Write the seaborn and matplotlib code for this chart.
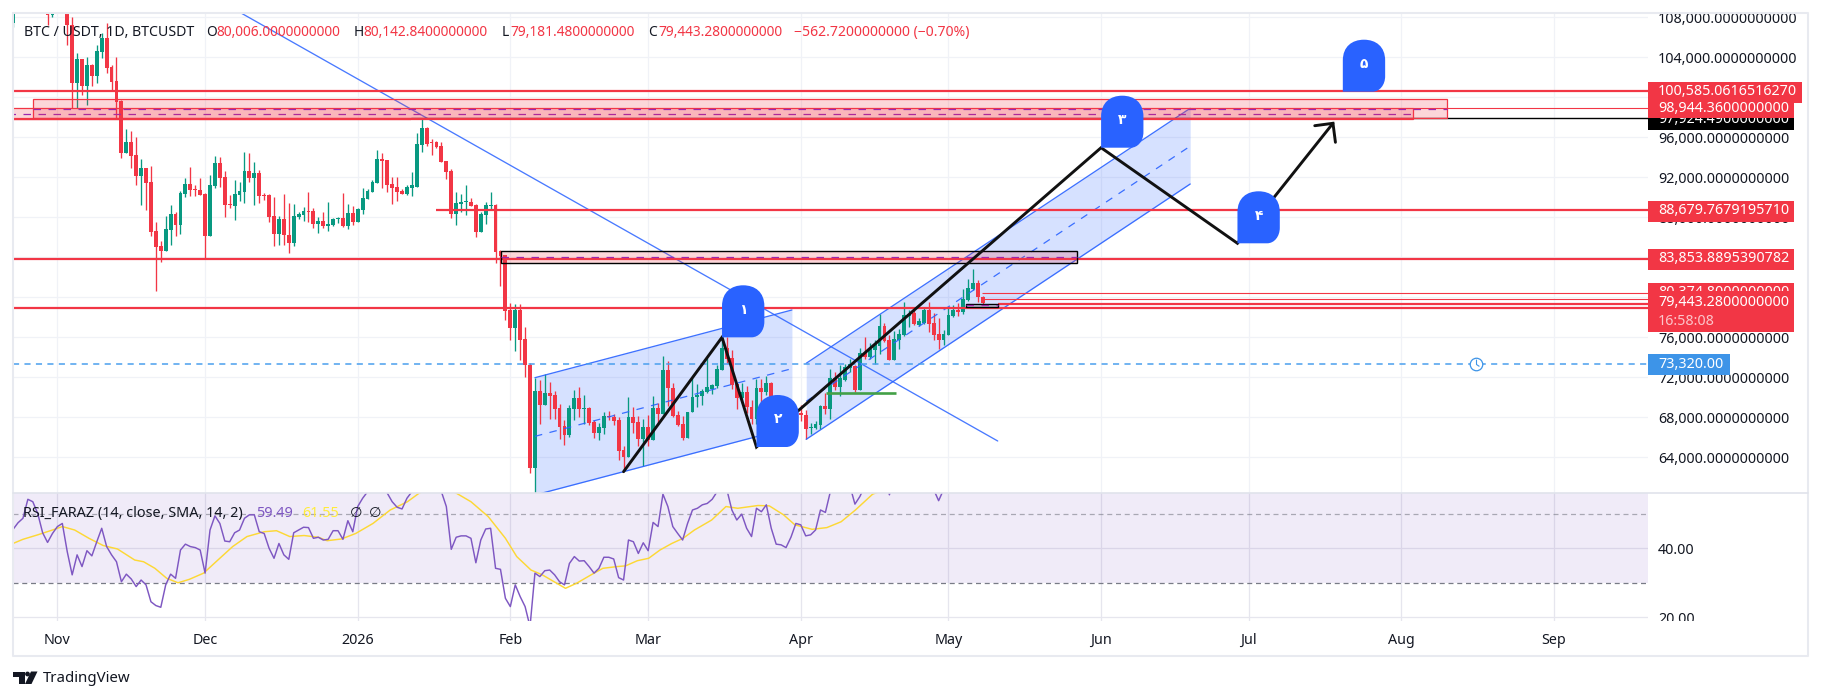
import numpy as np
import pandas as pd
import seaborn as sns
import matplotlib
matplotlib.use("Agg")
import matplotlib.pyplot as plt
from matplotlib.patches import PathPatch, Rectangle, Polygon, Circle
from matplotlib.path import Path

# ---------- candles, daily from 2025-10-23 ----------
opens = [107390,110100,111000,111600,114500,114100,112900,110000,108190,
 109500,110000,110500,107220,101390,103790,101120,103220,102120,104520,105890,103050,101620,99620,94450,95520,94220,92150,92920,91520,86620,85120,84650,86720,88320,87220,90320,91320,90820,90720,
 90320,86150,91120,93420,92020,89320,89120,90220,90520,92620,91920,92420,90220,90220,88120,86320,87820,86220,85420,88020,88220,88620,88620,87320,87620,87120,87220,87820,87920,87120,88420,
 87520,88720,89820,90520,91420,93820,93720,91320,91020,90620,90320,90920,91020,95220,96920,95520,95520,95120,93620,92620,88320,89320,89520,89520,89220,86520,88220,89120,89220,84620,84220,
 78720,76950,78720,75790,73220,62920,70620,69220,70420,70220,68920,67120,66220,68820,69920,68820,68920,67520,66420,66920,68120,68020,67720,64720,64020,68020,67520,65820,
 67020,65720,68920,68320,72720,70920,68220,67320,65920,68520,70020,70120,70520,70820,71120,72720,74920,73920,71320,69920,70520,69020,67820,70920,70520,71420,69220,66520,66420,66020,66720,
 68420,68220,66920,66920,67220,69120,68820,71920,71020,71720,72920,73150,70720,74390,74020,74720,75120,77120,75720,73720,75720,76220,78120,78420,77220,77420,78720,77420,76320,75720,
 76220,78120,78720,78520,79720,80820,81420,80006.0]
highs = [111300,111900,111900,115000,116400,116000,113600,111500,111000,
 110500,111000,110800,108000,104450,103790,104050,103320,105220,106390,107390,103220,104050,99720,96820,96620,96020,93820,92920,93120,87520,85620,88120,89220,88520,90620,91920,93020,91220,91920,
 90420,92220,94120,94020,92620,90220,91720,91520,94520,94420,93520,92720,90420,90320,90020,88120,90320,89420,89320,88520,89020,90520,88920,88050,88520,89520,87920,88050,90420,89320,89120,
 88920,90920,90820,91720,94720,94420,93720,92020,92020,90820,91220,92520,96420,97820,97020,95820,95620,95520,93620,92820,90520,90320,91220,89920,89320,88520,89520,90520,89320,84720,84220,
 79390,79290,79290,76990,73390,71920,71720,72320,71520,70620,69320,67720,69220,70720,71020,70220,69020,67720,67420,68520,68620,68320,68020,65120,70020,69020,68120,67820,
 68220,70120,69420,74120,73620,71420,68620,68120,68520,71920,71320,70820,73920,71320,73220,75920,76020,74720,71320,71420,71120,69720,71820,71820,72120,71520,69220,67220,67220,67620,68420,
 69220,68720,67420,67620,69220,70420,72820,72520,73220,73320,73820,73220,74920,76020,75420,75720,78320,77420,76220,76620,76820,79520,78720,79020,77920,79020,79520,78420,77920,76720,
 78920,79220,79420,80820,81820,82820,81720,80142.84]
lows = [107000,109800,110900,111300,113900,112100,109800,107220,108000,
 109400,109800,105220,98890,98890,100220,99220,101120,101390,103890,102450,100720,97890,93950,94450,92950,91250,89220,88720,86150,80650,83550,84650,85250,86150,86320,90020,90120,90120,90220,
 83920,86150,90920,90990,88020,88920,87720,89620,89420,91520,89220,89420,89720,87520,85120,85220,85220,84420,85120,87820,87620,87520,86920,86420,86920,86620,87120,87420,87020,86820,87220,
 87520,88320,89820,90520,91420,90920,90520,89320,89620,90320,90220,90120,91020,94520,95120,94220,94920,93520,91820,87920,87220,88520,88220,89120,86020,86520,87320,88820,83420,81120,77700,
 75720,74650,73720,71990,62420,60000,67320,69220,67820,67820,65820,65220,66020,67720,68020,67320,67220,65920,65720,66320,67720,67220,63720,62620,64020,66420,65120,63120,
 65120,65720,67320,68320,69120,68020,67120,65720,65920,68520,69020,69220,70420,70320,70920,72720,73420,70820,68820,69420,68420,67320,67320,69020,70220,68120,65720,66120,65120,66020,66720,
 67620,65820,66320,66820,66820,68320,67820,70720,70120,71620,72520,70520,70720,73820,73820,73320,74320,75520,73720,73720,74820,76120,77020,77220,77120,77320,76520,75720,74820,75220,
 76220,78020,78120,78320,79620,80720,79520,79181.48]
closes = [110100,111000,111600,114500,114100,112900,110000,108190,109500,
 110000,110500,107220,101390,103790,101120,103220,102120,104620,105890,102950,101550,99550,94450,95520,94150,92150,92920,91390,86550,85050,84650,86820,88320,87220,90420,91320,90720,90720,90220,
 86150,91220,93420,91920,89220,89220,90320,90620,92620,91920,92420,90120,90120,88020,86320,87820,86220,85420,88120,88320,88620,88520,87320,87620,87120,87320,87820,87920,87120,88420,87520,
 88820,89920,90620,91520,93820,93620,91220,90920,90520,90320,91020,91220,95320,96920,95320,95420,95020,93520,92520,88320,89420,89520,89520,89120,86520,88320,89220,89220,84520,84120,78620,
 76950,78720,75720,73220,62920,70620,69220,70420,70120,68820,67020,66220,68920,69920,68820,68920,67420,66420,67020,68120,68020,67620,64620,64020,68020,67420,65820,67020,
 65720,68920,68320,72720,70920,68120,67220,65920,68520,70020,70220,70620,71020,71220,72820,74920,73820,71220,69920,70520,69020,67820,70920,70520,71420,69120,66420,66420,66020,66820,68420,
 68190,66820,67020,67320,69120,68820,71920,71020,71920,73020,73320,70720,74390,74020,74820,75320,77120,75620,73720,75820,76320,78220,78320,77320,77620,78720,77320,76220,75720,76320,
 78220,78720,78520,79820,80920,81420,80020,79443.28]
first_day = "2025-10-23"

# ---------- RSI, daily over the same days, and its moving average ----------
rsi_values = [45.5,47.4,48.7,54.2,53.5,50.1,44.5,41.7,44.3,
 46.3,47.2,39.0,32.3,38.1,34.7,39.3,37.8,41.9,45.8,40.5,38.1,36.1,30.3,32.5,31.1,28.9,30.8,29.4,24.5,23.4,22.9,29.4,32.5,31.3,39.5,41.2,40.5,40.2,39.5,
 32.8,45.3,49.4,47.2,42.1,41.9,44.5,45.3,48.7,49.7,49.7,44.8,44.3,40.0,37.1,41.4,38.1,36.8,44.5,45.3,46.1,46.0,42.9,43.2,42.4,42.6,45.1,45.1,42.6,48.0,44.8,
 52.1,54.5,56.4,58.4,59.3,58.8,56.0,53.5,51.9,51.4,54.5,56.4,58.4,59.3,59.8,59.3,58.4,56.4,52.1,39.7,43.2,43.6,43.6,42.9,35.8,42.4,45.6,45.8,34.2,33.9,25.5,
 23.1,29.4,26.0,23.1,17.3,32.8,31.8,33.5,33.7,32.3,30.3,29.4,35.6,37.6,36.3,36.4,34.7,32.8,34.2,37.4,37.4,36.9,31.5,30.8,42.4,41.9,38.5,
 41.6,39.3,47.5,46.3,55.7,52.1,46.3,44.3,42.4,47.2,51.1,51.6,52.6,53.0,54.2,56.4,58.8,56.9,51.1,48.2,49.9,45.8,43.4,51.6,50.6,52.6,45.8,41.2,41.0,40.2,43.2,
 47.2,46.8,43.6,43.9,45.3,51.1,50.4,56.4,57.0,59.0,60.0,58.0,52.8,55.0,58.0,60.0,62.0,63.0,62.0,55.5,61.0,62.0,63.0,62.0,64.0,62.0,60.0,58.0,57.0,53.8,
 57.0,59.0,60.0,61.0,62.0,63.0,66.0,62.0,59.49]
sma_days = [-9,-7,-4,-1,1,3.5,6.4,9.3,12.2,15.7,17.5,19.8,22.2,24.5,26.8,29.7,32.6,35.6,38.5,42,44.5,47.2,50.1,53,54.8,57.7,60.6,64.1,67.6,71.1,73.5,77.3,81,84,87.5,91,93.3,96.2,98.5,100.9,103.2,105.5,108.4,110.8,113.7,115.4,117.8,120.1,122.4,124.8,127.1,129.4,132.9,135.8,138.2,142.3,144.6,147.5,149.8,153.3,156.3,159.2,162.1,165.6,170,175,180,185,188]
sma_values = [41.4,42.6,43.9,45.3,46.3,45.3,42.9,40.8,39.8,36.6,36.1,34.2,31.3,30.0,31.0,32.8,36.6,40.5,43.4,44.8,45.1,43.4,43.7,43.2,42.2,42.7,44.3,47.2,51.1,53.5,56.0,58.5,56.0,53.5,49.2,42.9,37.6,33.7,32.3,30.3,28.4,29.9,32.3,34.2,34.7,34.9,36.4,37.1,39.5,41.4,42.9,45.3,48.2,52.1,51.6,52.4,52.3,49.7,46.8,45.5,46.0,47.7,51.1,55.7,58.0,60.0,61.0,61.5,61.55]

# ---------- drawings on the chart (days after 2025-11-01, price) ----------
zigzag_days = [115,135,142,212,239.7,259.1]
zigzag_prices = [62550,75990,65020,94950,85390,97390]
arrow_days = [255.4,259.1,259.6]
arrow_prices = [97150,97390,95490]
trend_days = [37.3,191]
trend_prices = [108420,65620]
channel1_days = [97,149.2]
channel1_upper = [71950,78720]
channel1_lower = [60220,66990]
channel2_days = [152.1,230.1]
channel2_upper = [73390,98890]
channel2_lower = [65790,91320]
blob_days = [135,142,212,239.7,261.1]
blob_prices = [75990,65020,94950,85390,100550]
blob_labels = ["۱","۲","۳","۴","۵"]
green_days = [156.1,170.3]
green_price = 70420
alarm_day, alert_price = 288.2, 73320

# ---------- axis text ----------
month_starts = ["2025-11-01","2025-12-01","2026-01-01","2026-02-01","2026-03-01","2026-04-01","2026-05-01","2026-06-01","2026-07-01","2026-08-01","2026-09-01"]
month_labels = ["Nov","Dec","2026","Feb","Mar","Apr","May","Jun","Jul","Aug","Sep"]
price_ticks = list(range(64000,112000,4000))
RED, GREEN, BLUE, INK = "#f23645", "#089981", "#2962ff", "#131722"
GRID = "#f0f2f7"
AXIS_FS = 10.3

sns.set_theme(style="white")
plt.rcParams["font.family"] = ["Noto Sans","DejaVu Sans"]
W, H = 1821, 700
fig = plt.figure(figsize=(W/100, H/100), dpi=100, facecolor="white")

def box(l, t, r, b):
    return [l/W, 1-b/H, (r-l)/W, (b-t)/H]

LEFT, RIGHT = 13, 1647.7
ax = fig.add_axes(box(LEFT, 13, RIGHT, 493.3))
ax_r = fig.add_axes(box(LEFT, 493.3, RIGHT, 620.7), sharex=ax)
XMIN, XMAX = -9.02, 323.03
YMIN, YMAX = 60390, 108420
origin = pd.Timestamp("2025-11-01")
def day(s):
    return (pd.Timestamp(s)-origin).days

dates = pd.date_range(first_day, periods=len(closes))
frame = pd.DataFrame(dict(day=(dates-origin).days, o=opens, h=highs, l=lows, c=closes, rsi=rsi_values))
frame["color"] = np.where(frame.c >= frame.o, GREEN, RED)
month_days = [day(s) for s in month_starts]

# ---- main pane ----
ax.vlines(frame.day, frame.l, frame.h, colors=frame.color, lw=0.95, zorder=3)
ax.bar(frame.day, np.maximum((frame.c-frame.o).abs(), 90), bottom=np.minimum(frame.o, frame.c),
       width=0.78, color=frame.color, linewidth=0, zorder=4)

ch_fill = dict(color=BLUE, alpha=0.19, lw=0, zorder=2)
ch_line = dict(color=BLUE, lw=0.95, zorder=5, alpha=0.9)
for xs, up, lo in ((channel1_days, channel1_upper, channel1_lower),
                   (channel2_days, channel2_upper, channel2_lower)):
    ax.fill_between(xs, lo, up, **ch_fill)
    ax.plot(xs, up, **ch_line)
    ax.plot(xs, lo, **ch_line)
    ax.plot(xs, (np.array(up)+np.array(lo))/2, color=BLUE, lw=0.9, ls=(0, (6, 6)), zorder=5, alpha=0.9)
ax.plot(trend_days, trend_prices, color=BLUE, lw=0.95, zorder=5, alpha=0.85)

def red_line(x0, x1, p, lw=1.6):
    ax.plot([x0, x1], [p, p], color=RED, lw=lw, zorder=6, solid_capstyle="butt")
red_line(XMIN, XMAX, 100585)
red_line(76.9, XMAX, 88679.77)
red_line(XMIN, XMAX, 83853.89)
red_line(XMIN, XMAX, 78920)
red_line(XMIN, 71.8, 97870)
red_line(275.3, XMAX, 98944.36, lw=0.8)
red_line(187.8, XMAX, 80374.8, lw=0.8)
red_line(187.8, XMAX, 79790, lw=0.8)
red_line(191, XMAX, 79320)
ax.plot([71.8, XMAX], [97880, 97880], color="black", lw=1.0, zorder=6)

def zone(x0, x1, lo, hi, edge, ec_lw=0.9, fill=RED, alpha=0.2, mid=True):
    ax.add_patch(Rectangle((x0, lo), x1-x0, hi-lo, fc=matplotlib.colors.to_rgba(fill, alpha),
                           ec=edge, lw=ec_lw, zorder=6))
    if mid:
        ax.plot([x0, x1], [(lo+hi)/2]*2, color="#9c27b0", lw=0.9, ls=(0, (6, 6)), zorder=6)
zone(XMIN-1, 275.3, 97820, 98890, RED)
zone(-4.9, 282.2, 97890, 99790, RED)
zone(90.2, 207.2, 83390, 84650, "black", ec_lw=1.0)
zone(184.5, 191.1, 79050, 79320, "black", ec_lw=1.0, fill="#787b86", alpha=0.25)

ax.plot(green_days, [green_price]*2, color="#43a047", lw=1.9, zorder=6, solid_capstyle="butt")
ax.plot([XMIN, XMAX], [alert_price]*2, color="#4a9fee", lw=1.1, ls=(0, (4, 3.5)), zorder=6)
ax.plot(alarm_day, alert_price, "o", ms=9, mfc="white", mec="#3d94e8", mew=0.9, zorder=7)
hands = Path([(0, 0.75), (0, 0), (0.45, -0.3)], [Path.MOVETO, Path.LINETO, Path.LINETO])
ax.plot(alarm_day, alert_price, marker=hands, ms=7, mfc="none", mec="#3d94e8", mew=0.8, zorder=8)

ax.plot(zigzag_days, zigzag_prices, color="#111111", lw=2.1, zorder=7, solid_joinstyle="miter")
ax.plot(arrow_days, arrow_prices, color="#111111", lw=2.1, zorder=7, solid_joinstyle="miter")

BW, BH = 8.6, 5200
for bx, bp, lab in zip(blob_days, blob_prices, blob_labels):
    verts = [(0,0),(0,.6),(0,.87),(.22,1),(.5,1),(.78,1),(1,.87),(1,.6),(1,.3),(1,.13),(.87,0),(.7,0),(0,0)]
    codes = [Path.MOVETO,Path.LINETO,Path.CURVE4,Path.CURVE4,Path.CURVE4,Path.CURVE4,Path.CURVE4,Path.CURVE4,
             Path.LINETO,Path.CURVE4,Path.CURVE4,Path.CURVE4,Path.CLOSEPOLY]
    pts = [(bx+v[0]*BW, bp+v[1]*BH) for v in verts]
    ax.add_patch(PathPatch(Path(pts, codes), fc=BLUE, ec="none", zorder=9))
    ax.text(bx+BW/2, bp+BH*0.52, lab, color="white", fontsize=10, fontweight="bold",
            ha="center", va="center", zorder=10)

ax.set_xlim(XMIN, XMAX)
ax.set_ylim(YMIN, YMAX)
ax.yaxis.tick_right()
ax.set_yticks(price_ticks)
ax.set_yticklabels([f"{p:,.10f}" for p in price_ticks], fontsize=AXIS_FS, color=INK, ha="left")
ax.tick_params(axis="y", length=0, pad=7.5)
ax.tick_params(axis="x", length=0, labelbottom=False)
ax.set_xticks(month_days)
ax.grid(True, color=GRID, lw=0.9, zorder=0)
ax.set_axisbelow(True)
for s in ax.spines.values():
    s.set_visible(False)

# ---- RSI pane ----
ax_r.axhspan(30, 70, color="#7e57c2", alpha=0.115, lw=0, zorder=1)
ax_r.axhline(50, color="#787b86", lw=0.9, ls=(0, (4, 3)), alpha=0.6, zorder=2)
ax_r.axhline(30, color="#787b86", lw=0.9, ls=(0, (4, 3)), zorder=2)
sns.lineplot(data=frame, x="day", y="rsi", ax=ax_r, color="#7e57c2", lw=1.05, estimator=None, sort=False, legend=False, zorder=4)
sns.lineplot(x=sma_days, y=sma_values, ax=ax_r, color="#fdd835", lw=1.05, estimator=None, sort=False, legend=False, zorder=3)
ax_r.set_xlim(XMIN, XMAX)
ax_r.set_ylim(19.01, 55.94)
ax_r.yaxis.tick_right()
ax_r.set_yticks([20, 40])
ax_r.set_yticklabels(["20.00", "40.00"], fontsize=AXIS_FS, color=INK, ha="left")
ax_r.tick_params(axis="y", length=0, pad=7.5)
ax_r.set_xticks(month_days)
ax_r.set_xticklabels(month_labels, fontsize=AXIS_FS, color=INK)
ax_r.get_xticklabels()[2].set_fontweight("bold")
ax_r.tick_params(axis="x", length=0, pad=8.5)
ax_r.set_xlabel(""); ax_r.set_ylabel("")
ax_r.grid(True, color="#e6e6ee", lw=0.9, zorder=0)
ax_r.set_axisbelow(True)
for s in ax_r.spines.values():
    s.set_visible(False)

# ---- full-figure layer: frame, price boxes, header, logo ----
ov = fig.add_axes([0, 0, 1, 1], zorder=20)
ov.set_xlim(0, W); ov.set_ylim(H, 0); ov.axis("off"); ov.patch.set_alpha(0)
FR = "#e8eaf0"
ov.add_patch(Rectangle((1648, 0), 165, 13, fc="white", ec="none", zorder=1))
ov.add_patch(Rectangle((1648, 621), 165, 8, fc="white", ec="none", zorder=1))
ov.plot([13, 1808, 1808, 13, 13], [13, 13, 655.5, 655.5, 13], color=FR, lw=1.5, zorder=2)
ov.plot([13, 1808], [493.3, 493.3], color="#e0e3eb", lw=1.2, zorder=2)

boxes = [  # text, text centre, top, bottom, right, colour
    ("80,374.8000000000", 293.0, 283.3, 303, 1794, RED),
    ("97,924.4900000000", 119.5, 118, 130, 1794, "black"),
    ("100,585.0616516270", 91.5, 82.3, 102.7, 1802, RED),
    ("98,944.3600000000", 108, 100, 118, 1794, RED),
    ("88,679.7679195710", 210.7, 201, 221.7, 1794, RED),
    ("83,853.8895390782", 258.7, 249, 269.7, 1794, RED),
    ("79,443.2800000000", 303, 290.5, 331.7, 1794, RED),
    ("73,320.00", 364, 354, 375, 1730, "#3d94e8"),
]
z = 3
for txt, yc, top, bot, right, col in boxes:
    ov.add_patch(Rectangle((1648, top), right-1648, bot-top, fc=col, ec="none", zorder=z))
    ov.text(1658, yc, txt, color="white", fontsize=AXIS_FS, va="center", ha="left", zorder=z+0.5)
    z += 1
ov.text(1658, 321.5, "16:58:08", color="#fcc5ca", fontsize=AXIS_FS, va="center", ha="left", zorder=z)

hy = 32.3
def head(x, s, c, fs=9.9):
    ov.text(x, hy, s, color=c, fontsize=fs, va="center", ha="left", zorder=z)
head(23.5, "BTC / USDT, 1D, BTCUSDT", INK, fs=10.2)
head(206.5, "O", INK); head(216, "80,006.0000000000", RED)
head(354, "H", INK); head(363.5, "80,142.8400000000", RED)
head(501.7, "L", INK); head(510, "79,181.4800000000", RED)
head(648, "C", INK); head(658, "79,443.2800000000", RED)
head(794.4, "−562.7200000000 (−0.70%)", RED, fs=10.1)

ry = 513.3
def rhead(x, s, c, fs=10.4):
    ov.text(x, ry, s, color=c, fontsize=fs, va="center", ha="left", zorder=z)
rhead(23, "RSI_FARAZ (14, close, SMA, 14, 2)", INK)
rhead(256.6, "59.49", "#7e57c2")
rhead(302.5, "61.55", "#ffeb3b")
rhead(350, "∅", INK)
rhead(369, "∅", INK)

ov.add_patch(Polygon([(13,671.5),(24.5,671.5),(24.5,684),(18.5,684),(18.5,676.5),(13,676.5)], fc="#131722", ec="none"))
ov.add_patch(Circle((27.5,674), 2.4, fc="#131722", ec="none"))
ov.add_patch(Polygon([(31,671.5),(37.5,671.5),(31.5,684),(25,684)], fc="#131722", ec="none"))
ov.text(42.5, 678.5, "TradingView", color=INK, fontsize=10.8, va="center", ha="left")

fig.savefig("out.png", dpi=100, facecolor="white")
